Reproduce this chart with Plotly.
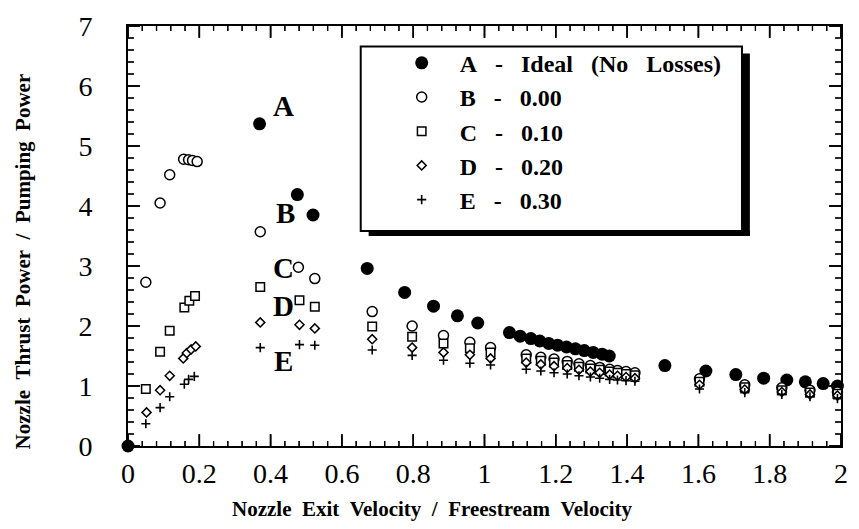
import plotly.graph_objects as go

# ---------------- data ----------------
# A - Ideal (no losses), filled circles
a_x = [0.0, 0.369, 0.475, 0.519, 0.671, 0.776, 0.857, 0.924, 0.981,
       1.070, 1.100, 1.130, 1.155, 1.180, 1.205, 1.230, 1.255, 1.280, 1.305, 1.330, 1.350,
       1.506, 1.621, 1.705, 1.783, 1.848, 1.900, 1.950, 1.990]
a_y = [0.0, 5.37, 4.19, 3.85, 2.96, 2.56, 2.33, 2.17, 2.05,
       1.89, 1.83, 1.79, 1.75, 1.71, 1.68, 1.65, 1.62, 1.59, 1.56, 1.53, 1.50,
       1.34, 1.25, 1.19, 1.13, 1.10, 1.07, 1.04, 1.00]

# shared x positions for the loss cases beyond 0.6
rest_x = [0.685, 0.797, 0.885, 0.959, 1.017,
          1.117, 1.158, 1.195, 1.232, 1.265, 1.297, 1.323, 1.351, 1.373, 1.397, 1.422,
          1.603, 1.730, 1.834, 1.913, 1.990]

# B - 0.00, open circles
b_x_head = [0.050, 0.090, 0.117, 0.156, 0.170, 0.181, 0.194, 0.371, 0.478, 0.524]
b_y = [2.73, 4.05, 4.52, 4.78, 4.77, 4.76, 4.74, 3.57, 2.98, 2.79,
       2.24, 2.00, 1.84, 1.73, 1.64,
       1.52, 1.48, 1.45, 1.41, 1.37, 1.34, 1.31, 1.28, 1.26, 1.24, 1.22,
       1.12, 1.02, 0.97, 0.93, 0.90]

# C - 0.10, open squares
c_x_head = [0.050, 0.090, 0.117, 0.158, 0.172, 0.188, 0.371, 0.481, 0.524]
c_y = [0.95, 1.57, 1.92, 2.31, 2.42, 2.50, 2.65, 2.43, 2.32,
       1.99, 1.82, 1.71, 1.63, 1.56,
       1.46, 1.42, 1.39, 1.35, 1.32, 1.29, 1.27, 1.24, 1.22, 1.20, 1.18,
       1.07, 0.98, 0.93, 0.89, 0.87]

# D - 0.20, open diamonds
d_x_head = [0.052, 0.090, 0.117, 0.155, 0.165, 0.177, 0.190, 0.371, 0.481, 0.524]
d_y = [0.56, 0.93, 1.17, 1.46, 1.55, 1.61, 1.66, 2.06, 2.02, 1.96,
       1.78, 1.64, 1.56, 1.52, 1.46,
       1.39, 1.36, 1.33, 1.30, 1.27, 1.24, 1.22, 1.19, 1.17, 1.15, 1.13,
       1.02, 0.94, 0.90, 0.86, 0.84]

# E - 0.30, plus signs
e_x_head = [0.050, 0.090, 0.117, 0.158, 0.170, 0.186, 0.371, 0.481, 0.524]
e_y = [0.37, 0.64, 0.82, 1.03, 1.11, 1.16, 1.64, 1.69, 1.68,
       1.60, 1.51, 1.43, 1.38, 1.35,
       1.28, 1.25, 1.22, 1.20, 1.17, 1.15, 1.13, 1.11, 1.10, 1.09, 1.08,
       0.95, 0.89, 0.86, 0.82, 0.79]

legend_names = ["A   -   Ideal   (No   Losses)", "B   -   0.00", "C   -   0.10",
                "D   -   0.20", "E   -   0.30"]
curve_labels = ["A", "B", "C", "D", "E"]
curve_label_x = [0.436, 0.441, 0.436, 0.436, 0.436]
curve_label_y = [5.66, 3.89, 2.96, 2.34, 1.41]

X_RANGE = [0, 2]
Y_RANGE = [0, 7]
X_MAJOR, X_MINOR = 0.2, 0.04
Y_MAJOR, Y_MINOR = 1.0, 0.2

# ---------------- figure ----------------
SERIF = "Liberation Serif, Times New Roman, serif"
NB = "\u00a0"
FIG_W, FIG_H = 859, 529
M_L, M_R, M_T, M_B = 128, 11, 18, 83
PLOT_W, PLOT_H = FIG_W - M_L - M_R, FIG_H - M_T - M_B


def nb(s):
    return s.replace(" ", NB)


fig = go.Figure()

# ---- inward tick marks on all four frame sides (axis decoration) ----
px_x = (X_RANGE[1] - X_RANGE[0]) / PLOT_W   # x units per pixel
px_y = (Y_RANGE[1] - Y_RANGE[0]) / PLOT_H   # y units per pixel
MAJ_LEN, MIN_LEN = 12, 5
tick_paths = {True: ([], []), False: ([], [])}
x_tick_list = []
y_tick_list = []
n_x = int(round((X_RANGE[1] - X_RANGE[0]) / X_MINOR))
per_x = int(round(X_MAJOR / X_MINOR))
for k in range(n_x + 1):
    v = X_RANGE[0] + k * X_MINOR
    major = (k % per_x == 0)
    x_tick_list.append((v, major))
    ln = (MAJ_LEN if major else MIN_LEN) * px_y
    xs, ys = tick_paths[major]
    xs += [v, v, None, v, v, None]
    ys += [Y_RANGE[0], Y_RANGE[0] + ln, None, Y_RANGE[1], Y_RANGE[1] - ln, None]
n_y = int(round((Y_RANGE[1] - Y_RANGE[0]) / Y_MINOR))
per_y = int(round(Y_MAJOR / Y_MINOR))
for k in range(n_y + 1):
    v = Y_RANGE[0] + k * Y_MINOR
    major = (k % per_y == 0)
    y_tick_list.append((v, major))
    ln = (MAJ_LEN if major else MIN_LEN + 1) * px_x
    xs, ys = tick_paths[major]
    xs += [X_RANGE[0], X_RANGE[0] + ln, None, X_RANGE[1], X_RANGE[1] - ln, None]
    ys += [v, v, None, v, v, None]
for major, (xs, ys) in tick_paths.items():
    fig.add_trace(go.Scatter(x=xs, y=ys, mode="lines", showlegend=False,
                             hoverinfo="skip", connectgaps=False, cliponaxis=False,
                             line=dict(color="black", width=1.6 if major else 1.2)))

# same ticks as unclipped paper-referenced shapes (fallback rendering path)
for v, major in x_tick_list:
    fx = (v - X_RANGE[0]) / (X_RANGE[1] - X_RANGE[0])
    ln = (MAJ_LEN if major else MIN_LEN) / PLOT_H
    w = 1.6 if major else 1.2
    fig.add_shape(type="line", xref="paper", yref="paper", x0=fx, x1=fx, y0=0, y1=ln,
                  line=dict(color="black", width=w), layer="above")
    fig.add_shape(type="line", xref="paper", yref="paper", x0=fx, x1=fx, y0=1, y1=1 - ln,
                  line=dict(color="black", width=w), layer="above")
for v, major in y_tick_list:
    fy = (v - Y_RANGE[0]) / (Y_RANGE[1] - Y_RANGE[0])
    ln = (MAJ_LEN if major else MIN_LEN + 1) / PLOT_W
    w = 1.6 if major else 1.2
    fig.add_shape(type="line", xref="paper", yref="paper", y0=fy, y1=fy, x0=0, x1=ln,
                  line=dict(color="black", width=w), layer="above")
    fig.add_shape(type="line", xref="paper", yref="paper", y0=fy, y1=fy, x0=1, x1=1 - ln,
                  line=dict(color="black", width=w), layer="above")

series = [
    (a_x, a_y, dict(symbol="circle", size=13, color="black",
                    line=dict(color="black", width=0))),
    (b_x_head + rest_x, b_y, dict(symbol="circle", size=10, color="white",
                                  line=dict(color="black", width=1.5))),
    (c_x_head + rest_x, c_y, dict(symbol="square", size=8.5, color="white",
                                  line=dict(color="black", width=1.5))),
    (d_x_head + rest_x, d_y, dict(symbol="diamond", size=7, color="white",
                                  line=dict(color="black", width=1.5))),
    (e_x_head + rest_x, e_y, dict(symbol="cross-thin", size=6.5, color="black",
                                  line=dict(color="black", width=1.6))),
]

for i, (xs, ys, mk) in enumerate(series):
    fig.add_trace(go.Scatter(
        x=xs, y=ys, mode="markers", name=nb(legend_names[i]),
        marker=mk, cliponaxis=False, legendgroup=str(i),
    ))

for lab, lx, ly in zip(curve_labels, curve_label_x, curve_label_y):
    fig.add_annotation(x=lx, y=ly, text=lab, showarrow=False,
                       font=dict(family=SERIF, size=29, color="black", weight="bold"),
                       xanchor="center", yanchor="middle")

fig.update_xaxes(
    range=X_RANGE, tickmode="linear", tick0=0, dtick=X_MAJOR,
    showline=True, linecolor="black", linewidth=2, mirror=True,
    ticks="", showgrid=False, zeroline=False, ticklabelstandoff=1,
    tickfont=dict(family=SERIF, size=28, color="black"),
)
fig.update_yaxes(
    range=Y_RANGE, tickmode="linear", tick0=0, dtick=Y_MAJOR,
    ticksuffix=NB * 4,
    showline=True, linecolor="black", linewidth=2, mirror=True,
    ticks="", showgrid=False, zeroline=False,
    tickfont=dict(family=SERIF, size=28, color="black"),
)

# axis titles as annotations (positioned like the reference)
fig.add_annotation(xref="paper", yref="paper", x=0.4275, y=-0.1495,
                   text=nb("Nozzle  Exit  Velocity  /  Freestream  Velocity"),
                   showarrow=False, xanchor="center", yanchor="middle",
                   font=dict(family=SERIF, size=21, color="black", weight="bold"))
fig.add_annotation(xref="paper", yref="paper", x=-0.147, y=0.44,
                   text=nb("Nozzle  Thrust  Power  /  Pumping  Power"),
                   textangle=-90, showarrow=False, xanchor="center", yanchor="middle",
                   font=dict(family=SERIF, size=21, color="black", weight="bold"))

# legend frame and its drop shadow
fig.add_shape(type="rect", xref="paper", yref="paper",
              x0=0.8611, x1=0.8722, y0=0.50, y1=0.9346,
              fillcolor="black", line=dict(width=0), layer="above")
fig.add_shape(type="rect", xref="paper", yref="paper",
              x0=0.3375, x1=0.8722, y0=0.50, y1=0.5117,
              fillcolor="black", line=dict(width=0), layer="above")
fig.add_shape(type="rect", xref="paper", yref="paper",
              x0=0.3264, x1=0.8611, y0=0.5117, y1=0.951,
              fillcolor="white", line=dict(color="black", width=2), layer="above")

fig.update_layout(
    width=FIG_W, height=FIG_H,
    margin=dict(l=M_L, r=M_R, t=M_T, b=M_B),
    paper_bgcolor="white", plot_bgcolor="white",
    showlegend=True,
    legend=dict(x=0.3586, y=0.965, xanchor="left", yanchor="top",
                bgcolor="rgba(0,0,0,0)", borderwidth=0,
                font=dict(family=SERIF, size=24, color="black", weight="bold"),
                tracegroupgap=0, itemwidth=66),
)

fig.write_html("out.html")
